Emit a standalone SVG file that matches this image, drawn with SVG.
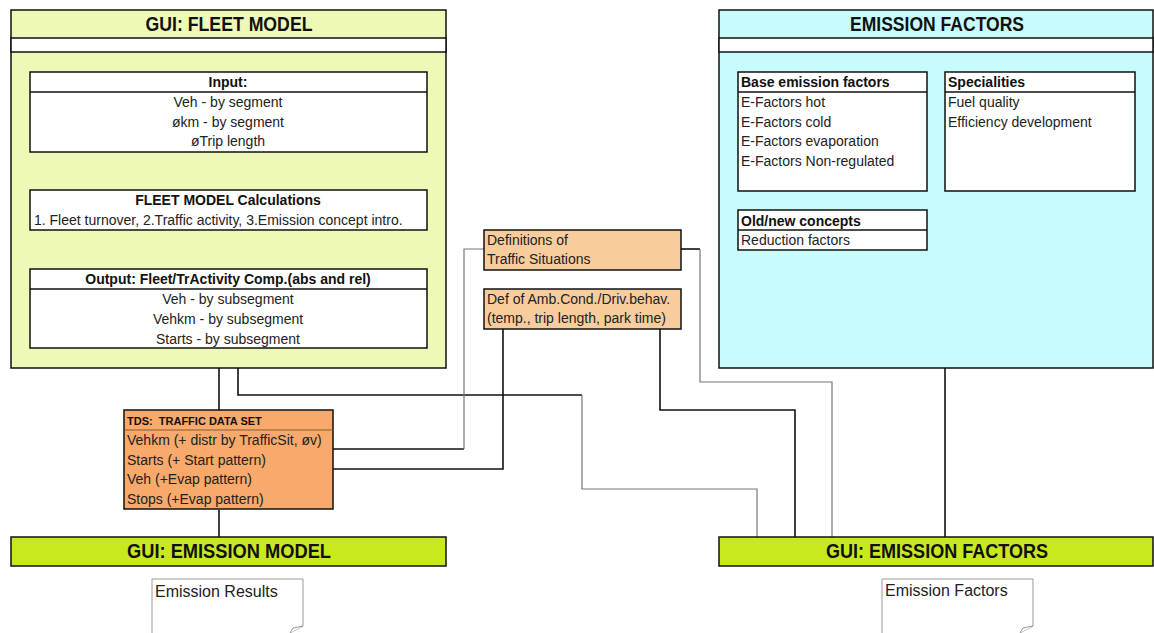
<svg xmlns="http://www.w3.org/2000/svg" width="1154" height="633" viewBox="0 0 1154 633">
<style>
text{font-family:"Liberation Sans","DejaVu Sans",sans-serif;fill:#111}
.t{font-size:14px;fill:#222}
.b{font-weight:bold;fill:#111}
.h{font-size:20px;font-weight:bold;text-anchor:middle}
.c{text-anchor:middle}
.box{stroke:#111;stroke-width:1.5}
.ln{fill:none;stroke:#111;stroke-width:1.6}
.lg{fill:none;stroke:#777;stroke-width:1.2}
.gui{fill:#c9e91f;stroke:#111;stroke-width:1.5}
.note{fill:#fff;stroke:#999;stroke-width:1}
</style>
<rect width="1154" height="633" fill="#fff"/>
<g id="connectors">
<line class="ln" x1="219" y1="152" x2="219" y2="190"/>
<line class="ln" x1="219" y1="230" x2="219" y2="269"/>
<line class="ln" x1="219" y1="368" x2="219" y2="410"/>
<line class="ln" x1="219" y1="510" x2="219" y2="537"/>
<polyline class="ln" points="238,368 238,395 582,395"/>
<polyline class="lg" points="582,395 582,489 757,489 757,537"/>
<polyline class="ln" points="333,449 464,449"/>
<polyline class="lg" points="464,449 464,249 484,249"/>
<polyline class="ln" points="681,249 700,249"/>
<polyline class="lg" points="700,249 700,382 832,382 832,537"/>
<polyline class="ln" points="503,329 503,469 333,469"/>
<polyline class="ln" points="660,329 660,410 795,410 795,537"/>
<line class="ln" x1="945" y1="368" x2="945" y2="537"/>
</g>
<g id="fleet-model">
<rect class="box" x="11" y="10" width="435" height="358" fill="#eef9b8"/>
<rect class="box" x="11" y="38" width="435" height="14" fill="#fff"/>
<text class="h" x="229" y="31" textLength="167" lengthAdjust="spacingAndGlyphs">GUI: FLEET MODEL</text>
</g>
<g id="input">
<rect class="box" x="30" y="72" width="397" height="80" fill="#fff"/>
<line class="box" x1="30" y1="92" x2="427" y2="92"/>
<text class="t b c" x="228" y="87">Input:</text>
<text class="t c" x="228" y="107">Veh - by segment</text>
<text class="t c" x="228" y="127">økm - by segment</text>
<text class="t c" x="228" y="146">øTrip length</text>
</g>
<g id="calculations">
<rect class="box" x="30" y="190" width="397" height="40" fill="#fff"/>
<text class="t b c" x="228" y="205">FLEET MODEL Calculations</text>
<text class="t" x="34" y="225">1. Fleet turnover, 2.Traffic activity, 3.Emission concept intro.</text>
</g>
<g id="output">
<rect class="box" x="30" y="269" width="397" height="79" fill="#fff"/>
<line class="box" x1="30" y1="289" x2="427" y2="289"/>
<text class="t b c" x="228" y="284">Output: Fleet/TrActivity Comp.(abs and rel)</text>
<text class="t c" x="228" y="304">Veh - by subsegment</text>
<text class="t c" x="228" y="324">Vehkm - by subsegment</text>
<text class="t c" x="228" y="344">Starts - by subsegment</text>
</g>
<g id="emission-factors">
<rect class="box" x="719" y="10" width="434" height="358" fill="#c8fcfc"/>
<rect class="box" x="719" y="38" width="434" height="14" fill="#fff"/>
<text class="h" x="937" y="31" textLength="174" lengthAdjust="spacingAndGlyphs">EMISSION FACTORS</text>
</g>
<g id="base-ef">
<rect class="box" x="738" y="72" width="189" height="119" fill="#fff"/>
<line class="box" x1="738" y1="92" x2="927" y2="92"/>
<text class="t b" x="741" y="87">Base emission factors</text>
<text class="t" x="741" y="107">E-Factors hot</text>
<text class="t" x="741" y="127">E-Factors cold</text>
<text class="t" x="741" y="146">E-Factors evaporation</text>
<text class="t" x="741" y="166">E-Factors Non-regulated</text>
</g>
<g id="specialities">
<rect class="box" x="945" y="72" width="190" height="119" fill="#fff"/>
<line class="box" x1="945" y1="92" x2="1135" y2="92"/>
<text class="t b" x="948" y="87">Specialities</text>
<text class="t" x="948" y="107">Fuel quality</text>
<text class="t" x="948" y="127">Efficiency development</text>
</g>
<g id="old-new">
<rect class="box" x="738" y="210" width="189" height="40" fill="#fff"/>
<line class="box" x1="738" y1="230" x2="927" y2="230"/>
<text class="t b" x="741" y="226">Old/new concepts</text>
<text class="t" x="741" y="245">Reduction factors</text>
</g>
<g id="definitions">
<rect class="box" x="484" y="230" width="197" height="40" fill="#f9cc9e"/>
<text class="t" x="487" y="245">Definitions of</text>
<text class="t" x="487" y="264">Traffic Situations</text>
</g>
<g id="amb-cond">
<rect class="box" x="484" y="289" width="197" height="40" fill="#f9cc9e"/>
<text class="t" x="487" y="304">Def of Amb.Cond./Driv.behav.</text>
<text class="t" x="487" y="323">(temp., trip length, park time)</text>
</g>
<g id="tds">
<rect class="box" x="124" y="410" width="209" height="99" fill="#f8a96b"/>
<line stroke="#8a5a30" stroke-width="1.2" x1="124" y1="430" x2="333" y2="430"/>
<text class="b" x="127" y="425" font-size="11" xml:space="preserve">TDS:  TRAFFIC DATA SET</text>
<text class="t" x="127" y="445">Vehkm (+ distr by TrafficSit, øv)</text>
<text class="t" x="127" y="465">Starts (+ Start pattern)</text>
<text class="t" x="127" y="484">Veh (+Evap pattern)</text>
<text class="t" x="127" y="504">Stops (+Evap pattern)</text>
</g>
<g id="gui-emission-model">
<rect class="gui" x="11" y="537" width="435" height="29"/>
<text class="h" x="229" y="558" textLength="204" lengthAdjust="spacingAndGlyphs">GUI: EMISSION MODEL</text>
</g>
<g id="gui-emission-factors">
<rect class="gui" x="719" y="537" width="434" height="29"/>
<text class="h" x="937" y="558" textLength="222" lengthAdjust="spacingAndGlyphs">GUI: EMISSION FACTORS</text>
</g>
<g id="emission-results">
<path class="note" d="M152,633 V579 H303 V626 L290,633"/>
<path class="note" d="M290,633 L293,628 L303,626"/>
<text class="t" x="155" y="597" font-size="16" style="font-size:16px">Emission Results</text>
</g>
<g id="emission-factors-note">
<path class="note" d="M882,633 V579 H1033 V626 L1020,633"/>
<path class="note" d="M1020,633 L1023,628 L1033,626"/>
<text class="t" x="885" y="596" style="font-size:16px">Emission Factors</text>
</g>
</svg>
